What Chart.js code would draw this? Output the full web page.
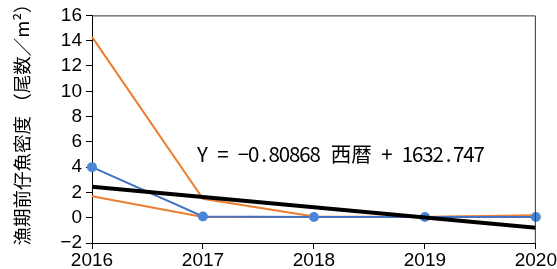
<!DOCTYPE html>
<html>
<head>
<meta charset="utf-8">
<script src="https://cdn.jsdelivr.net/npm/chart.js@4/dist/chart.umd.min.js"></script>
<style>
  html, body { margin: 0; padding: 0; background: #fff; }
  #c { display: block; }
</style>
</head>
<body>
<canvas id="c" width="557" height="269"></canvas>
<script>
const years = ['2016', '2017', '2018', '2019', '2020'];
const blueValues = [4.0, 0.1, 0.05, 0.05, 0.05];
const orangeHigh = [14.3, 1.5, 0.1, 0.05, 0.2];
const orangeLow = [1.7, 0.05, 0.05, 0.05, 0.15];
// regression line (Y = -0.80868 x + 1632.747)
const trendValues = [2.45, 1.64, 0.83, 0.02, -0.79];
const yTicks = [-2, 0, 2, 4, 6, 8, 10, 12, 14, 16];
const equationText = 'Y = −0.80868 西暦 + 1632.747';
// leading ideographic space nudges the rotated title upward like the original
const yTitle = '　漁期前仔魚密度 （尾数／m²）';

const tickFont = { family: "'Liberation Sans Narrow', 'Liberation Sans', sans-serif", size: 19 };

// top/right frame + equation text (monospace-like cells)
const extras = {
  id: 'extras',
  afterDraw(chart) {
    const { ctx, chartArea: a, scales } = chart;
    ctx.save();
    ctx.strokeStyle = '#333';
    ctx.lineWidth = 1;
    ctx.beginPath();
    ctx.moveTo(a.left, a.top + 0.5);
    ctx.lineTo(a.right - 0.5, a.top + 0.5);
    ctx.lineTo(a.right - 0.5, a.bottom);
    ctx.stroke();

    const x0 = scales.x.left + (scales.x.width / 4) * 0.95;
    const y0 = scales.y.getPixelForValue(4.41);
    const cell = 10.25;
    ctx.font = "20.5px 'Noto Sans CJK JP', sans-serif";
    ctx.fillStyle = '#000';
    ctx.textAlign = 'center';
    ctx.textBaseline = 'alphabetic';
    let x = x0;
    for (const ch of equationText) {
      const w = /[\u3000-\u9fff]/.test(ch) ? cell * 2 : cell;
      ctx.fillText(ch, x + w / 2, y0);
      x += w;
    }
    ctx.restore();
  }
};

new Chart(document.getElementById('c'), {
  type: 'line',
  data: {
    labels: years,
    datasets: [
      { data: trendValues, borderColor: '#000', borderWidth: 4, pointRadius: 0 },
      { data: blueValues, borderColor: '#4472C4', borderWidth: 2, pointRadius: 4,
        pointBackgroundColor: '#4a86d6', pointBorderColor: '#4a86d6' },
      { data: orangeHigh, borderColor: '#ED7D31', borderWidth: 2, pointRadius: 0 },
      { data: orangeLow, borderColor: '#ED7D31', borderWidth: 2, pointRadius: 0 }
    ]
  },
  options: {
    responsive: false,
    animation: false,
    devicePixelRatio: 1,
    layout: { padding: { top: 14, right: 18, left: 7, bottom: 0 } },
    plugins: { legend: { display: false }, tooltip: { enabled: false } },
    elements: { line: { tension: 0 } },
    scales: {
      x: {
        offset: false,
        grid: { drawOnChartArea: false, drawTicks: true, tickLength: 6, tickColor: '#000' },
        border: { color: '#000', width: 1 },
        ticks: { color: '#000', font: tickFont, padding: 0, maxRotation: 0, autoSkip: false },
        afterFit(s) { s.height = 26; }
      },
      y: {
        min: -2, max: 16,
        afterBuildTicks(s) { s.ticks = yTicks.map(v => ({ value: v })); },
        grid: { drawOnChartArea: false, drawTicks: true, tickLength: 6, tickColor: '#000' },
        border: { color: '#000', width: 1 },
        ticks: { color: '#000', font: tickFont, padding: 4, autoSkip: false,
          callback: v => String(v).replace('-', '−') },
        title: { display: true, text: yTitle, color: '#000',
          font: { family: "'Noto Sans CJK JP', sans-serif", size: 18.5 }, padding: { top: 4, bottom: 0 } },
        afterFit(s) { s.width = 85; }
      }
    }
  },
  plugins: [extras]
});
</script>
</body>
</html>
